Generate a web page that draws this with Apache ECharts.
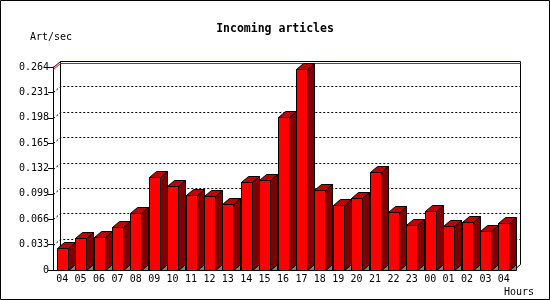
<!DOCTYPE html>
<html>
<head>
<meta charset="utf-8">
<script src="https://cdn.jsdelivr.net/npm/echarts@6/dist/echarts.min.js"></script>
<style>
  html, body { margin: 0; padding: 0; background: #fff; }
  #main { width: 550px; height: 300px; }
</style>
</head>
<body>
<div id="main"></div>
<script>
var hours = ['04', '05', '06', '07', '08', '09', '10', '11', '12', '13', '14', '15', '16',
             '17', '18', '19', '20', '21', '22', '23', '00', '01', '02', '03', '04'];
var rate = [0.0283, 0.0413, 0.0426, 0.0556, 0.0742, 0.1207, 0.1090, 0.0977, 0.0960, 0.0860,
            0.1146, 0.1172, 0.1989, 0.2610, 0.1038, 0.0847, 0.0934, 0.1272, 0.0755, 0.0582,
            0.0768, 0.0569, 0.0625, 0.0508, 0.0612];
var yTicks = [0.033, 0.066, 0.099, 0.132, 0.165, 0.198, 0.231];

var myChart = echarts.init(document.getElementById('main'));

var DX = 7, DY = 6;   // depth of the 3d look
var font = 'DejaVu Sans Mono';
var maxRate = Math.max.apply(null, rate);

function px(v) { return Math.round(v) + 0.5; }

// back wall, dotted grid lines over the left side wall, red line at the max
function renderWall(params, api) {
    var cs = params.coordSys;
    var l = px(cs.x), r = px(cs.x + cs.width), t = px(cs.y), b = px(cs.y + cs.height);
    var y = px(api.coord([0, api.value(0)])[1]);
    var kids = [];
    if (params.dataIndex === 0) {
        kids.push({
            type: 'polyline',
            shape: { points: [[l + DX, b - DY], [l + DX, t - DY], [r + DX, t - DY], [r + DX, b - DY], [r, b]] },
            style: { stroke: '#000', fill: null, lineWidth: 1 }
        });
        kids.push({
            type: 'line',
            shape: { x1: l, y1: t, x2: l + DX, y2: t - DY },
            style: { stroke: '#000', lineWidth: 1 }
        });
        var ym = px(api.coord([0, maxRate])[1]);
        kids.push({
            type: 'polyline',
            shape: { points: [[l, ym], [l + DX, ym - DY], [r + DX, ym - DY]] },
            style: { stroke: '#ff0000', fill: null, lineWidth: 1 }
        });
    }
    kids.push({
        type: 'polyline',
        shape: { points: [[l, y], [l + DX, y - DY], [r + DX, y - DY]] },
        style: { stroke: '#000', fill: null, lineWidth: 1, lineDash: [2, 2] }
    });
    return { type: 'group', children: kids };
}

function renderBar(params, api) {
    var top = api.coord([api.value(0), api.value(1)]);
    var bot = api.coord([api.value(0), 0]);
    var band = api.size([1, 0])[0];
    var w = Math.round(band * 0.6);
    var x0 = px(top[0] - w / 2), x1 = x0 + w;
    var y0 = px(top[1]), y1 = px(bot[1]);
    var line = { stroke: '#000', lineWidth: 1 };
    return {
        type: 'group',
        children: [{
            type: 'polygon',
            shape: { points: [[x1, y1], [x1 + DX, y1 - DY], [x1 + DX, y1]] },
            style: { fill: '#808080', stroke: '#000', lineWidth: 1 }
        }, {
            type: 'polygon',
            shape: { points: [[x1, y0], [x1 + DX, y0 - DY], [x1 + DX, y1 - DY], [x1, y1]] },
            style: Object.assign({ fill: '#800000' }, line)
        }, {
            type: 'polygon',
            shape: { points: [[x0, y0], [x0 + DX, y0 - DY], [x1 + DX, y0 - DY], [x1, y0]] },
            style: Object.assign({ fill: '#c00000' }, line)
        }, {
            type: 'rect',
            shape: { x: x0, y: y0, width: w, height: y1 - y0 },
            style: Object.assign({ fill: '#ff0000' }, line)
        }]
    };
}

option = {
    backgroundColor: '#fff',
    animation: false,
    title: {
        text: 'Incoming articles',
        left: 'center',
        top: 18,
        textStyle: { fontFamily: font, fontWeight: 'bold', fontSize: 11.5, color: '#000' }
    },
    graphic: [{
        type: 'rect',
        shape: { x: 0.5, y: 0.5, width: 549, height: 299 },
        style: { fill: null, stroke: '#000', lineWidth: 1 },
        z: 100
    }, {
        type: 'text',
        left: 30, top: 32,
        style: { text: 'Art/sec', font: '10px "DejaVu Sans Mono"', fill: '#000' }
    }, {
        type: 'text',
        left: 504, top: 287,
        style: { text: 'Hours', font: '10px "DejaVu Sans Mono"', fill: '#000' }
    }],
    grid: { left: 53, right: 37, top: 67, bottom: 30 },
    xAxis: {
        type: 'category',
        data: hours,
        axisLine: { lineStyle: { color: '#000', width: 1 } },
        axisTick: { length: 4, lineStyle: { color: '#000' } },
        axisLabel: { interval: 0, margin: 4, color: '#000', fontFamily: font, fontSize: 10 },
        splitLine: { show: false }
    },
    yAxis: {
        type: 'value',
        min: 0,
        max: 0.264,
        interval: 0.033,
        axisLine: { show: true, lineStyle: { color: '#000', width: 1 } },
        axisTick: { show: true, length: 5, lineStyle: { color: '#000' } },
        axisLabel: {
            margin: 4, color: '#000', fontFamily: font, fontSize: 10,
            formatter: function (v) { return v === 0 ? '0' : v.toFixed(3); }
        },
        splitLine: { show: false }
    },
    series: [{
        type: 'custom',
        renderItem: renderWall,
        silent: true,
        z: 1,
        data: yTicks.map(function (v) { return [v]; }),
        encode: { y: 0 }
    }, {
        type: 'custom',
        renderItem: renderBar,
        z: 3,
        data: rate.map(function (v, i) { return [i, v]; }),
        encode: { x: 0, y: 1 }
    }]
};

myChart.setOption(option);
</script>
</body>
</html>
